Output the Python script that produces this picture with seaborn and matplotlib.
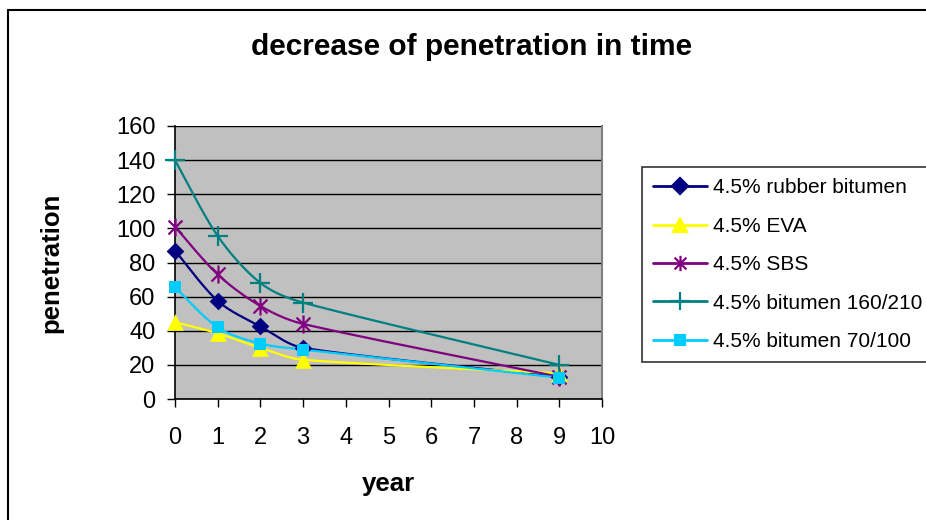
import numpy as np
import pandas as pd
import seaborn as sns
import matplotlib
matplotlib.use("Agg")
import matplotlib.pyplot as plt
from matplotlib.lines import Line2D
from matplotlib.path import Path

# ---- data ----
years = [0, 1, 2, 3, 9]
series_names = ["4.5% rubber bitumen", "4.5% EVA", "4.5% SBS",
                "4.5% bitumen 160/210", "4.5% bitumen 70/100"]
rubber = [87, 57.5, 42.5, 30, 13]
eva = [45, 38.5, 30, 23, 15]
sbs = [101, 73, 54.5, 44, 13]
bit160 = [140, 95.5, 68, 56.5, 20]
bit70 = [65.5, 42, 32.5, 29, 12.5]
x_ticks = list(range(0, 11))
y_ticks = list(range(0, 161, 20))

values = [rubber, eva, sbs, bit160, bit70]
colors = ["#000080", "#FFFF00", "#800080", "#008080", "#00CCFF"]

# asterisk marker: x plus vertical bar
star = Path([(-1, -1), (1, 1), (-1, 1), (1, -1), (0, -1.3), (0, 1.3)],
            [Path.MOVETO, Path.LINETO, Path.MOVETO, Path.LINETO, Path.MOVETO, Path.LINETO])
markers = ["D", "^", star, "+", "s"]
msizes = [9, 12, 13, 15, 8]

sns.set_theme(style="white")
plt.rcParams["font.family"] = ["Liberation Sans", "DejaVu Sans"]
plt.rcParams["text.color"] = "black"
plt.rcParams["axes.labelcolor"] = "black"

W, H = 926, 520
fig = plt.figure(figsize=(W / 100, H / 100), dpi=100)
L, R, T, B = 175, 602, 126, 399
ax = fig.add_axes([L / W, 1 - B / H, (R - L) / W, (B - T) / H])
ax.set_facecolor("#C0C0C0")
ax.set_xlim(0, 10)
ax.set_ylim(0, 160)

sx = (R - L) / 10.0
sy = (B - T) / 160.0


def clamp(v, lim):
    n = np.hypot(*v)
    if n > lim and n > 0:
        return v * (lim / n)
    return v


def smooth(xs, ys, n=60):
    P = np.column_stack([np.array(xs) * sx, np.array(ys) * sy])
    out = [P[0]]
    for i in range(len(P) - 1):
        p0 = P[i - 1] if i > 0 else P[i]
        p1, p2 = P[i], P[i + 1]
        p3 = P[i + 2] if i + 2 < len(P) else P[i + 1]
        seg_len = np.hypot(*(p2 - p1))
        c1 = p1 + clamp((p2 - p0) / 6.0, seg_len / 3.0)
        c2 = p2 - clamp((p3 - p1) / 6.0, seg_len / 3.0)
        t = np.linspace(0, 1, n)[1:, None]
        seg = ((1 - t) ** 3) * p1 + 3 * ((1 - t) ** 2) * t * c1 + 3 * (1 - t) * t ** 2 * c2 + t ** 3 * p2
        out.extend(seg)
    out = np.array(out)
    return out[:, 0] / sx, out[:, 1] / sy


for name, vals, c in zip(series_names, values, colors):
    cx, cy = smooth(years, vals)
    dfc = pd.DataFrame({"year": cx, "pen": cy})
    sns.lineplot(data=dfc, x="year", y="pen", sort=False, estimator=None,
                 color=c, lw=1.6, ax=ax, zorder=3)

for name, vals, c, m, ms in zip(series_names, values, colors, markers, msizes):
    dfm = pd.DataFrame({"year": years, "pen": vals})
    if m == "+" or m is star:
        ax.plot(dfm["year"], dfm["pen"], ls="none", marker=m, ms=ms, mec=c, mew=1.6,
                zorder=4, clip_on=False)
    else:
        sns.scatterplot(data=dfm, x="year", y="pen", marker=m, s=ms ** 2, color=c,
                        edgecolor=c, linewidth=0, ax=ax, zorder=4, clip_on=False)

ax.set_xticks(x_ticks)
ax.set_yticks(y_ticks)
ax.grid(axis="y", color="black", lw=1)
ax.grid(axis="x", visible=False)
ax.set_axisbelow(True)
ax.spines["right"].set_color("#808080")
ax.spines["right"].set_linewidth(1.5)
ax.spines["top"].set_visible(False)
for s in ["left", "bottom"]:
    ax.spines[s].set_color("black")
    ax.spines[s].set_linewidth(1.2)
ax.tick_params(axis="both", direction="out", length=6, width=1, color="black",
               labelsize=17, labelcolor="black", bottom=True, left=True)
ax.tick_params(axis="x", pad=14)
ax.tick_params(axis="y", pad=8)
ax.set_xlabel("year", fontsize=18.5, fontweight="bold", labelpad=17)
ax.set_ylabel("penetration", fontsize=18.5, fontweight="bold", labelpad=38)

fig.text(472 / W, 1 - 47 / H, "decrease of penetration in time", ha="center", va="center",
         fontsize=21.5, fontweight="bold")

handles = []
for name, c, m, ms in zip(series_names, colors, markers, msizes):
    handles.append(Line2D([], [], color=c, lw=2, marker=m, ms=ms * 0.85, mfc=c, mec=c,
                          mew=1.6, label=name))
leg = fig.legend(handles=handles, loc="upper left",
                 bbox_to_anchor=(642 / W, 1 - 167 / H), frameon=True, fancybox=False,
                 edgecolor="black", fontsize=15, labelspacing=0.93, handlelength=2.55,
                 handletextpad=0.3, borderpad=0.55, borderaxespad=0)
leg.get_frame().set_linewidth(1.2)

# figure border lines (top and left)
fig.add_artist(Line2D([8 / W, 1], [1 - 10 / H, 1 - 10 / H], color="black", lw=1.5,
                      transform=fig.transFigure))
fig.add_artist(Line2D([8 / W, 8 / W], [0, 1 - 10 / H], color="black", lw=1.5,
                      transform=fig.transFigure))

fig.savefig("out.png", dpi=100)
